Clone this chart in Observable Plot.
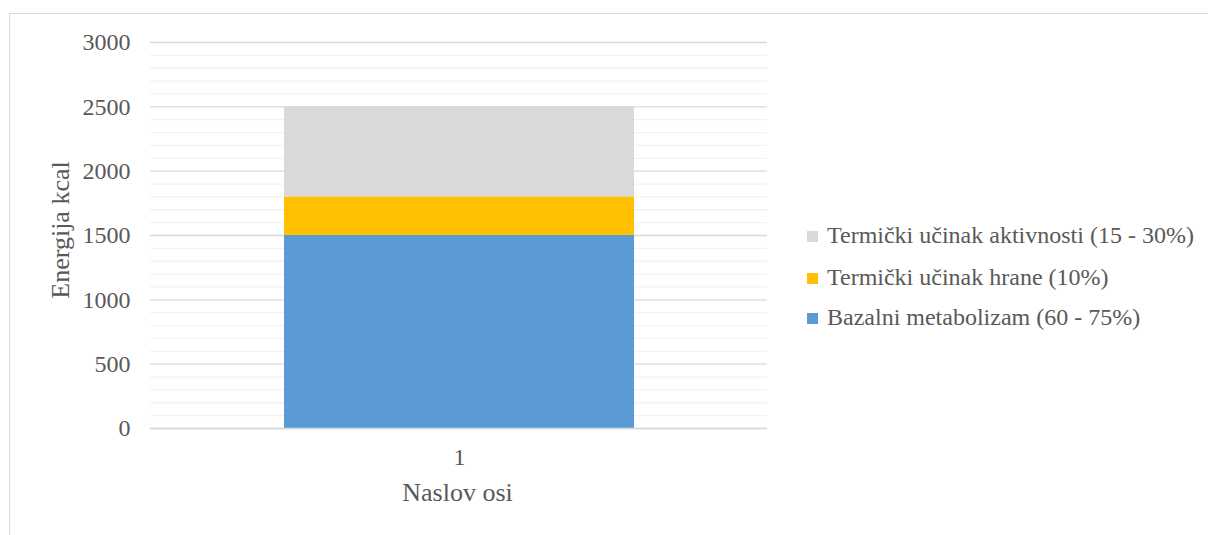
<!DOCTYPE html>
<html>
<head>
<meta charset="utf-8">
<script src="https://cdn.jsdelivr.net/npm/d3@7"></script>
<script src="https://cdn.jsdelivr.net/npm/@observablehq/plot@0.6"></script>
<style>
  html, body { margin: 0; padding: 0; background: #fff; overflow: hidden; width: 1208px; height: 535px; }
  #wrap { position: relative; width: 1208px; height: 535px; font-family: 'Liberation Serif'; color: #595959; }
  #frame { position: absolute; left: 9px; top: 13px; width: 1400px; height: 800px; border: 1px solid #d9d9d9; box-sizing: border-box; }
  #chart { position: absolute; left: 0; top: 0; }
  #chart svg text { font-family: 'Liberation Serif'; }
  .ttl { position: absolute; font-family: 'Liberation Serif'; font-size: 26px; line-height: 1; white-space: nowrap; }
  .leg { position: absolute; left: 807px; font-family: 'Liberation Serif'; font-size: 24px; line-height: 1; white-space: nowrap; }
  .sw { position: absolute; left: 0; width: 11px; height: 11px; }
  .lt { position: absolute; left: 20px; }
</style>
</head>
<body>
<div id="wrap">
  <div id="frame"></div>
  <div id="chart"></div>
</div>
<script>
// ---- data ----
const categories = ["1"];
const seriesNames = [
  "Bazalni metabolizam (60 - 75%)",
  "Termički učinak hrane (10%)",
  "Termički učinak aktivnosti (15 - 30%)"
];
const seriesValues = [1500, 300, 700];
const seriesColors = ["#5B9BD5", "#FFC000", "#D9D9D9"];
const yTicks = [0, 500, 1000, 1500, 2000, 2500, 3000];
const yMinorTicks = [100,200,300,400,600,700,800,900,1100,1200,1300,1400,1600,1700,1800,1900,2100,2200,2300,2400,2600,2700,2800,2900];
const xTitle = "Naslov osi";
const yTitle = "Energija kcal";

const data = seriesNames.map((s, i) => ({cat: categories[0], series: s, value: seriesValues[i]}));

const chart = Plot.plot({
  width: 1208,
  height: 535,
  marginLeft: 150,
  marginRight: 441,
  marginTop: 42,
  marginBottom: 107,
  style: {fontFamily: "'Liberation Serif'", fontSize: "24px", color: "#595959", background: "transparent"},
  x: {domain: categories, paddingInner: 0, paddingOuter: 0.381, label: null},
  y: {domain: [0, 3000], label: null},
  color: {domain: seriesNames, range: seriesColors},
  marks: [
    Plot.ruleY(yMinorTicks, {stroke: "#f2f2f2", strokeWidth: 1.3}),
    Plot.ruleY(yTicks, {stroke: "#d9d9d9", strokeWidth: 1.3}),
    Plot.barY(data, Plot.stackY({x: "cat", y: "value", fill: "series"})),
    Plot.ruleY([0], {stroke: "#d9d9d9", strokeWidth: 1.6}),
    Plot.axisY(yTicks, {tickSize: 0, tickPadding: 20, fontSize: 24, label: null, fill: "#595959", tickFormat: d => String(d)}),
    Plot.axisX({tickSize: 0, tickPadding: 19, fontSize: 24, label: null, fill: "#595959"})
  ]
});
document.getElementById("chart").appendChild(chart);

const wrap = document.getElementById("wrap");

// axis titles
const xt = document.createElement("div");
xt.className = "ttl";
xt.textContent = xTitle;
xt.style.left = "457.5px";
xt.style.top = "480px";
xt.style.transform = "translateX(-50%)";
wrap.appendChild(xt);

const yt = document.createElement("div");
yt.className = "ttl";
yt.textContent = yTitle;
yt.style.left = "61px";
yt.style.top = "230px";
yt.style.transform = "translate(-50%, -50%) rotate(-90deg)";
wrap.appendChild(yt);

// legend (top-most series first)
const legendTops = [223, 265, 305];
const order = [2, 1, 0];
order.forEach((idx, row) => {
  const item = document.createElement("div");
  item.className = "leg";
  item.style.top = legendTops[row] + "px";
  const sw = document.createElement("div");
  sw.className = "sw";
  sw.style.background = seriesColors[idx];
  sw.style.top = "8px";
  const t = document.createElement("div");
  t.className = "lt";
  t.textContent = seriesNames[idx];
  item.appendChild(sw);
  item.appendChild(t);
  wrap.appendChild(item);
});
</script>
</body>
</html>
